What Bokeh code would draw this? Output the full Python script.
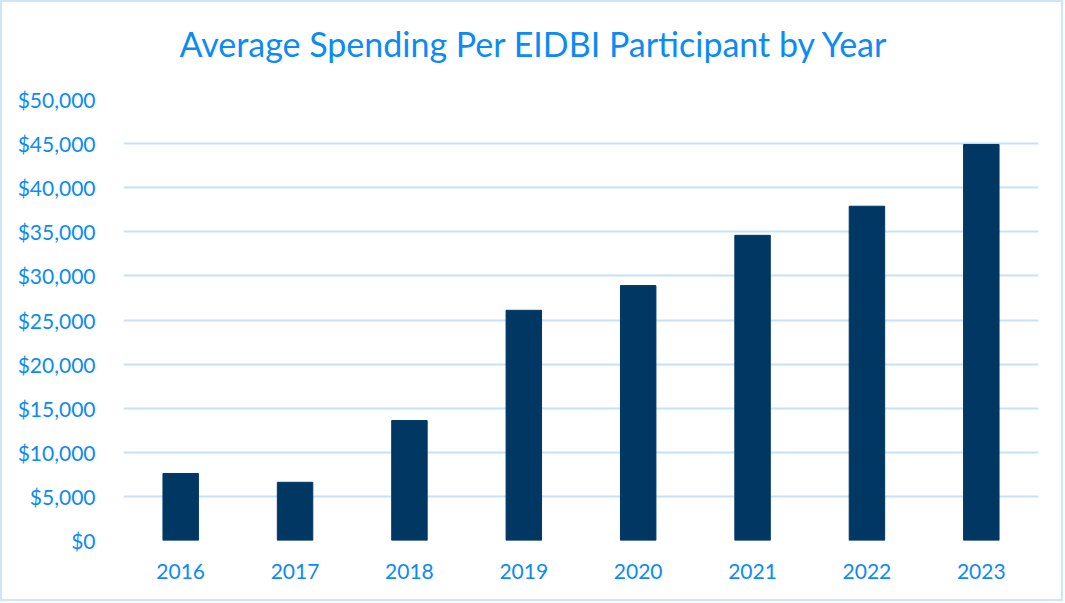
from bokeh.plotting import figure
from bokeh.models import FixedTicker, NumeralTickFormatter, Range1d, ColumnDataSource, Title
from bokeh.embed import file_html
from bokeh.resources import INLINE

title_text = "Average Spending Per EIDBI Participant by Year"
years = ["2016", "2017", "2018", "2019", "2020", "2021", "2022", "2023"]
spending = [7600, 6600, 13600, 26100, 28900, 34600, 37900, 44900]
y_ticks = [0, 5000, 10000, 15000, 20000, 25000, 30000, 35000, 40000, 45000, 50000]

TEXT_BLUE = "#0b8bf3"
GRID_BLUE = "#c5e2fa"
BAR = "#003763"
FONT = "Lato"

src = ColumnDataSource(dict(year=years, value=spending))

p = figure(x_range=years, y_range=Range1d(0, 50000),
           width=1063, height=601, output_backend="svg", toolbar_location=None,
           title=title_text,
           min_border_left=121, min_border_right=27, min_border_top=97, min_border_bottom=63)

p.vbar(x="year", top="value", width=0.31, source=src, fill_color=BAR, line_color=BAR)

p.title.align = "left"
p.title.offset = 56
p.title.vertical_align = "top"
p.title.standoff = 36
p.title.text_font = FONT
p.title.text_font_size = "34px"
p.title.text_font_style = "normal"
p.title.text_color = TEXT_BLUE

# blank spacer between the title and the plot area
p.add_layout(Title(text=" ", text_font_size="2px", standoff=12), "above")

p.yaxis.ticker = FixedTicker(ticks=y_ticks)
p.yaxis.formatter = NumeralTickFormatter(format="$0,0")
for ax in (p.xaxis[0], p.yaxis[0]):
    ax.axis_line_color = None
    ax.major_tick_line_color = None
    ax.minor_tick_line_color = None
    ax.major_label_text_font = FONT
    ax.major_label_text_font_size = "21px"
    ax.major_label_text_color = TEXT_BLUE
p.yaxis.major_label_standoff = 22
p.xaxis.major_label_standoff = 17

p.xgrid.grid_line_color = None
p.ygrid.ticker = FixedTicker(ticks=y_ticks)
p.ygrid.grid_line_color = GRID_BLUE
p.ygrid.grid_line_width = 2
p.outline_line_color = None
p.styles = {"border": "2px solid #cde5f9", "box-sizing": "border-box"}

open("out.html", "w").write(file_html(p, INLINE))
